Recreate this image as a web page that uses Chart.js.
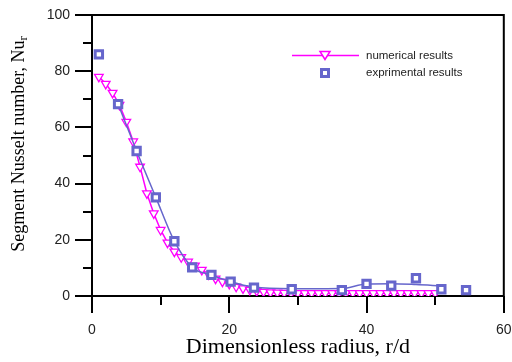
<!DOCTYPE html>
<html lang="en">
<head>
    <meta charset="UTF-8">
    <title>Segment Nusselt number</title>
    <script src="https://cdn.jsdelivr.net/npm/chart.js"></script>
    <style>
        html, body {
            margin: 0;
            padding: 0;
            background: #fff;
        }

        .chart-box {
            width: 512px;
            height: 362px;
        }
    </style>
</head>
<body>
    <div class="chart-box">
        <canvas id="nusseltChart" width="512" height="362"></canvas>
    </div>

    <script>
        // numerical results, r/d = 1 .. 50
        const numRadius = [1, 2, 3, 4, 5, 6, 7, 8, 9, 10, 11, 12, 13, 14, 15, 16, 17, 18, 19, 20,
            21, 22, 23, 24, 25, 26, 27, 28, 29, 30, 31, 32, 33, 34, 35, 36, 37, 38, 39, 40,
            41, 42, 43, 44, 45, 46, 47, 48, 49, 50];
        const numNusselt = [78, 75.5, 72.3, 68, 62, 55, 46, 36.5, 29.4, 23.5, 19, 15.8, 13.8, 12.2, 10.8, 9.3, 7.7, 6.2, 5.1, 4.3,
            3.3, 2.7, 2.2, 1.8, 1.5, 1.3, 1.2, 1.1, 1.0, 1.0, 1.0, 1.0, 1.0, 1.0, 1.0, 1.0, 1.0, 1.0, 1.0, 1.0,
            1.0, 1.0, 1.0, 1.0, 1.0, 1.0, 1.0, 1.0, 1.0, 1.0];

        // experimental results
        const expRadius = [1, 3.8, 6.5, 9.3, 12, 14.6, 17.4, 20.2, 23.6, 29.1, 36.4, 40, 43.6, 47.2, 50.9, 54.5];
        const expNusselt = [86, 68.3, 51.6, 35.1, 19.5, 10.2, 7.5, 5.1, 3.0, 2.4, 2.1, 4.3, 3.7, 6.3, 2.4, 2.1];

        // smooth curve drawn through the experimental points
        const fitRadius = [3.8, 6.5, 9.3, 12, 14.6, 17.4, 20.2, 23.6, 29.1, 36.4, 40, 43.6, 47.2, 50.9];
        const fitNusselt = [68.3, 51.6, 35.1, 19.5, 10.2, 7.5, 5.1, 3.2, 2.6, 2.7, 4.3, 4.4, 4.1, 3.6];

        const xTicks = [0, 20, 40, 60];
        const yTicks = [0, 20, 40, 60, 80, 100];

        const magenta = '#ff00ff';
        const blue = '#6666cc';

        function toPoints(xs, ys) {
            return xs.map((x, i) => ({ x: x, y: ys[i] }));
        }

        // box + outward ticks (long at labels, short in between)
        const axisFrame = {
            id: 'axisFrame',
            beforeDatasetsDraw(chart) {
                const { ctx, chartArea: a, scales: { x, y } } = chart;
                ctx.save();
                ctx.strokeStyle = '#000';
                ctx.lineWidth = 2;
                ctx.beginPath();
                ctx.rect(a.left, a.top, a.right - a.left, a.bottom - a.top);
                for (let v = 0; v <= 100; v += 10) {
                    const py = Math.round(y.getPixelForValue(v));
                    const len = yTicks.includes(v) ? 17 : 9;
                    ctx.moveTo(a.left - len, py);
                    ctx.lineTo(a.left, py);
                }
                for (let v = 0; v <= 60; v += 10) {
                    const px = Math.round(x.getPixelForValue(v));
                    const len = xTicks.includes(v) ? 17 : 9;
                    ctx.moveTo(px, a.bottom);
                    ctx.lineTo(px, a.bottom + len);
                }
                ctx.stroke();
                ctx.restore();
            }
        };

        // y title has a subscript, so it is drawn by hand
        const yTitle = {
            id: 'yTitle',
            afterDraw(chart) {
                const ctx = chart.ctx;
                const main = 'Segment Nusselt number, Nu';
                ctx.save();
                ctx.translate(19, 144);
                ctx.rotate(-Math.PI / 2);
                ctx.fillStyle = '#000';
                ctx.textBaseline = 'middle';
                ctx.font = '18px "Liberation Serif"';
                const wMain = ctx.measureText(main).width;
                ctx.font = '13px "Liberation Serif"';
                const wSub = ctx.measureText('r').width;
                const start = -(wMain + wSub) / 2;
                ctx.font = '18px "Liberation Serif"';
                ctx.fillText(main, start, 0);
                ctx.font = '13px "Liberation Serif"';
                ctx.fillText('r', start + wMain, 5);
                ctx.restore();
            }
        };

        // legend in the upper right of the plot
        const legendBox = {
            id: 'legendBox',
            afterDraw(chart) {
                const ctx = chart.ctx;
                ctx.save();
                // numerical: line with a down triangle
                ctx.strokeStyle = magenta;
                ctx.lineWidth = 1.5;
                ctx.beginPath();
                ctx.moveTo(292, 55.5);
                ctx.lineTo(359, 55.5);
                ctx.stroke();
                ctx.fillStyle = '#fff';
                ctx.beginPath();
                ctx.moveTo(320, 51.5);
                ctx.lineTo(330, 51.5);
                ctx.lineTo(325, 59.5);
                ctx.closePath();
                ctx.fill();
                ctx.stroke();
                // experimental: square
                ctx.strokeStyle = blue;
                ctx.lineWidth = 3;
                ctx.strokeRect(321.5, 69.5, 7, 7);

                ctx.fillStyle = '#222';
                ctx.font = '11.5px "Liberation Sans"';
                ctx.textBaseline = 'middle';
                ctx.fillText('numerical results', 366, 56);
                ctx.fillText('exprimental results', 366, 73);
                ctx.restore();
            }
        };

        const tickFont = { family: '"Liberation Sans", Arial, sans-serif', size: 14 };

        new Chart(document.getElementById('nusseltChart'), {
            type: 'scatter',
            data: {
                datasets: [
                    {
                        label: 'exprimental results',
                        data: toPoints(expRadius, expNusselt),
                        showLine: false,
                        pointStyle: 'rect',
                        pointRadius: 5.2,
                        pointBorderWidth: 3,
                        pointBorderColor: blue,
                        pointBackgroundColor: '#fff'
                    },
                    {
                        label: 'fit',
                        data: toPoints(fitRadius, fitNusselt),
                        showLine: true,
                        borderColor: blue,
                        borderWidth: 1.5,
                        pointRadius: 0,
                        cubicInterpolationMode: 'monotone'
                    },
                    {
                        label: 'numerical results',
                        data: toPoints(numRadius, numNusselt),
                        showLine: true,
                        borderColor: magenta,
                        borderWidth: 1.5,
                        tension: 0,
                        pointStyle: 'triangle',
                        rotation: 180,
                        pointRadius: 5,
                        pointBorderWidth: 1.3,
                        pointBorderColor: magenta,
                        pointBackgroundColor: '#fff'
                    }
                ]
            },
            options: {
                responsive: false,
                animation: false,
                devicePixelRatio: 1,
                layout: {
                    padding: { top: 15, right: 7, left: 0, bottom: 0 }
                },
                plugins: {
                    legend: { display: false },
                    tooltip: { enabled: false }
                },
                scales: {
                    x: {
                        type: 'linear',
                        min: 0,
                        max: 60,
                        afterFit(scale) {
                            scale.height = 66;
                            scale.paddingLeft = 0;
                            scale.paddingRight = 0;
                        },
                        afterBuildTicks(scale) { scale.ticks = xTicks.map(v => ({ value: v })); },
                        ticks: { font: tickFont, color: '#222', padding: 26, maxRotation: 0 },
                        grid: { display: false, drawTicks: false },
                        border: { display: false },
                        title: {
                            display: true,
                            text: 'Dimensionless radius, r/d',
                            color: '#000',
                            font: { family: '"Liberation Serif", serif', size: 22 },
                            padding: { top: 0, bottom: 2 }
                        }
                    },
                    y: {
                        type: 'linear',
                        min: 0,
                        max: 100,
                        afterFit(scale) {
                            scale.width = 92;
                            scale.paddingTop = 0;
                            scale.paddingBottom = 0;
                        },
                        afterBuildTicks(scale) { scale.ticks = yTicks.map(v => ({ value: v })); },
                        ticks: { font: tickFont, color: '#222', padding: 22 },
                        grid: { display: false, drawTicks: false },
                        border: { display: false }
                    }
                }
            },
            plugins: [axisFrame, yTitle, legendBox]
        });
    </script>
</body>
</html>
